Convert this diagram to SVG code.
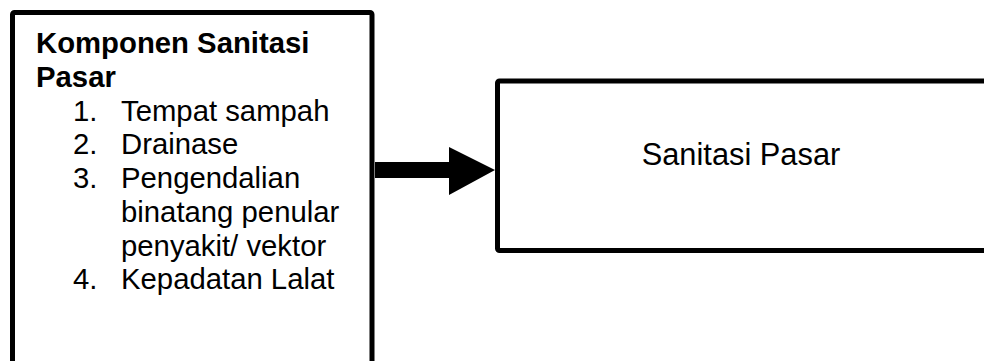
<svg xmlns="http://www.w3.org/2000/svg" width="984" height="361" viewBox="0 0 984 361">
<style>
.box{fill:#fff;stroke:#000;stroke-width:5}
.t{font-family:"Liberation Sans",Arial,sans-serif;font-size:29.3px;fill:#000}
.b{font-weight:bold}
</style>
<rect x="0" y="0" width="984" height="361" fill="#fff"/>
<g id="komponen">
<rect class="box" x="12.5" y="12.5" width="359.5" height="360" rx="2"/>
<text class="t b" x="36" y="53">Komponen Sanitasi</text>
<text class="t b" x="36" y="87">Pasar</text>
<text class="t" x="73" y="120.5">1.</text>
<text class="t" x="121" y="120.5">Tempat sampah</text>
<text class="t" x="73" y="154">2.</text>
<text class="t" x="121" y="154">Drainase</text>
<text class="t" x="73" y="188">3.</text>
<text class="t" x="121" y="188">Pengendalian</text>
<text class="t" x="121" y="222">binatang penular</text>
<text class="t" x="121" y="255.5">penyakit/ vektor</text>
<text class="t" x="73" y="289">4.</text>
<text class="t" x="121" y="289">Kepadatan Lalat</text>
</g>
<g id="sanitasi">
<rect class="box" x="497.5" y="81" width="500" height="169.5" rx="2"/>
<text class="t" x="741" y="165" text-anchor="middle" style="font-size:30.8px">Sanitasi Pasar</text>
</g>
<g id="connectors">
<polygon points="375,162 449,162 449,147 495,170 449,195 449,178 375,178" fill="#000"/>
</g>
</svg>
